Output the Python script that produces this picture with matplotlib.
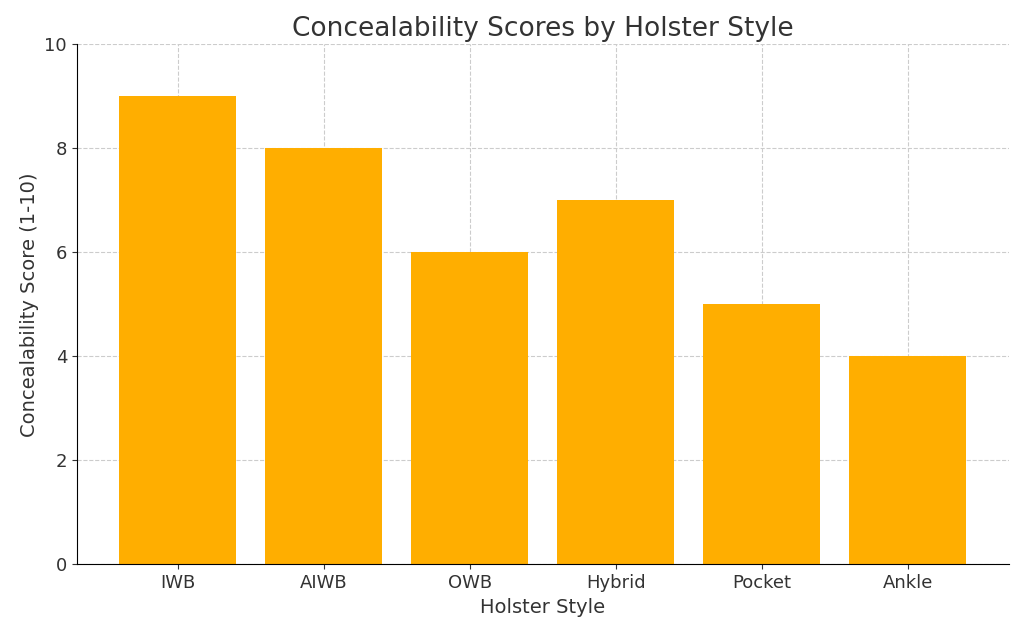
import matplotlib
matplotlib.use("Agg")
import matplotlib.pyplot as plt

styles = ["IWB", "AIWB", "OWB", "Hybrid", "Pocket", "Ankle"]
scores = [9, 8, 6, 7, 5, 4]

plt.rcParams["font.family"] = ["DejaVu Sans"]
fig, ax = plt.subplots(figsize=(10.24, 6.34), dpi=100)
ax.bar(styles, scores, color="#FFAE00", width=0.8, zorder=2)
ax.set_ylim(0, 10)
ax.set_title("Concealability Scores by Holster Style", fontsize=19, color="#333333")
ax.set_xlabel("Holster Style", fontsize=14, color="#333333")
ax.set_ylabel("Concealability Score (1-10)", fontsize=14, color="#333333")
ax.tick_params(labelsize=13, colors="#333333")
ax.grid(True, linestyle="--", color="#cccccc", linewidth=0.8, zorder=0)
for s in ["top", "right"]:
    ax.spines[s].set_visible(False)
fig.subplots_adjust(left=0.075, right=0.985, top=0.93, bottom=0.11)
fig.savefig("out.png")
